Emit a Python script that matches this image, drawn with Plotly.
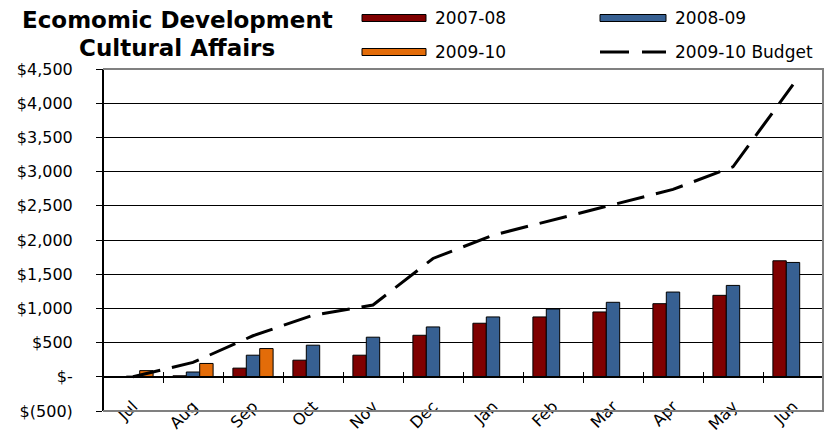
import plotly.graph_objects as go

months = ["Jul", "Aug", "Sep", "Oct", "Nov", "Dec", "Jan", "Feb", "Mar", "Apr", "May", "Jun"]
fy0708 = [0, 15, 127, 243, 316, 607, 783, 875, 948, 1069, 1191, 1696]
fy0809 = [10, 70, 316, 462, 579, 729, 875, 991, 1089, 1239, 1336, 1672]
fy0910 = [90, 195, 413, None, None, None, None, None, None, None, None, None]
budget = [0, 210, 600, 900, 1050, 1730, 2070, 2290, 2520, 2740, 3070, 4270]

ytickvals = [-500, 0, 500, 1000, 1500, 2000, 2500, 3000, 3500, 4000, 4500]
yticktext = ["$(500)", "$-", "$500", "$1,000", "$1,500", "$2,000", "$2,500",
             "$3,000", "$3,500", "$4,000", "$4,500"]
series_names = ["2007-08", "2008-09", "2009-10", "2009-10 Budget"]
colors = ["#7F0000", "#376092", "#E36C09"]

W, H = 825, 434
L, R, T, B = 103, 2, 69, 23
PW, PH = W - L - R, H - T - B
YMIN, YMAX = -500, 4500


def px2x(px):
    return (px - L) / PW


def px2y(py):
    return (H - B - py) / PH


FONT = "DejaVu Sans"
fig = go.Figure()
for name, vals, col in zip(series_names[:3], [fy0708, fy0809, fy0910], colors):
    fig.add_trace(go.Bar(x=months, y=vals, name=name, marker=dict(color=col, line=dict(color="black", width=1)),
                         showlegend=False))
fig.add_trace(go.Scatter(x=months, y=budget, mode="lines", name=series_names[3],
                         line=dict(color="black", width=3, dash="28px,12px"), showlegend=False))
# dummy trace to draw upward ticks on the zero axis
fig.add_trace(go.Scatter(x=months, y=[None] * len(months), xaxis="x2", showlegend=False, hoverinfo="skip"))

zero_pos = (0 - YMIN) / (YMAX - YMIN)

fig.update_layout(
    width=W, height=H,
    margin=dict(l=L, r=R, t=T, b=B, autoexpand=False),
    plot_bgcolor="white", paper_bgcolor="white",
    barmode="group", bargap=0.33, bargroupgap=0,
    font=dict(family=FONT, color="black", size=16),
    xaxis=dict(type="category", categoryarray=months, range=[-0.5, 11.5],
               anchor="free", position=zero_pos, showline=True, linecolor="black", linewidth=2,
               tickson="boundaries", ticks="outside", ticklen=5, tickcolor="black", tickwidth=1,
               tickangle=-45, tickfont=dict(family=FONT, size=16), showgrid=False, automargin=False,
               ticklabelstandoff=13),
    xaxis2=dict(type="category", categoryarray=months, range=[-0.5, 11.5], overlaying="x",
                anchor="free", position=zero_pos, showline=False,
                tickson="boundaries", ticks="inside", ticklen=5, tickcolor="black", tickwidth=1,
                showticklabels=False, showgrid=False),
    yaxis=dict(range=[YMIN, YMAX], tickvals=ytickvals, ticktext=yticktext,
               anchor="free", position=0,
               showline=True, linecolor="black", linewidth=2,
               ticks="outside", ticklen=6, tickcolor="black",
               showgrid=True, gridcolor="black", gridwidth=1, zeroline=False,
               tickfont=dict(family=FONT, size=16), automargin=False, ticklabelstandoff=20),
)

# plot area border (top, right, bottom)
fig.add_shape(type="path", xref="paper", yref="paper", path="M0,1 L1,1 L1,0 L0,0",
              line=dict(color="#808080", width=2), layer="above")

# title
fig.add_annotation(text="<b>Ecomomic Development</b>", xref="paper", yref="paper",
                   x=px2x(177), y=px2y(20), xanchor="center", yanchor="middle", showarrow=False,
                   font=dict(family=FONT, size=23, color="black"))
fig.add_annotation(text="<b>Cultural Affairs</b>", xref="paper", yref="paper",
                   x=px2x(177), y=px2y(48), xanchor="center", yanchor="middle", showarrow=False,
                   font=dict(family=FONT, size=23, color="black"))

# manual legend
legend_items = [
    (series_names[0], colors[0], 362, 426, 18, 433),
    (series_names[1], colors[1], 600, 666, 18, 673),
    (series_names[2], colors[2], 362, 426, 52, 433),
]
for name, col, x0, x1, yc, tx in legend_items:
    fig.add_shape(type="rect", xref="paper", yref="paper",
                  x0=px2x(x0), x1=px2x(x1), y0=px2y(yc - 3.5), y1=px2y(yc + 3.5),
                  fillcolor=col, line=dict(color="black", width=1))
    fig.add_annotation(text=name, xref="paper", yref="paper", x=px2x(tx), y=px2y(yc),
                       xanchor="left", yanchor="middle", showarrow=False,
                       font=dict(family=FONT, size=17, color="black"))
fig.add_shape(type="line", xref="paper", yref="paper", x0=px2x(600), x1=px2x(666),
              y0=px2y(52), y1=px2y(52), line=dict(color="black", width=3, dash="29px,13px"))
fig.add_annotation(text=series_names[3], xref="paper", yref="paper", x=px2x(673), y=px2y(52),
                   xanchor="left", yanchor="middle", showarrow=False,
                   font=dict(family=FONT, size=17, color="black"))

fig.write_html("out.html")
